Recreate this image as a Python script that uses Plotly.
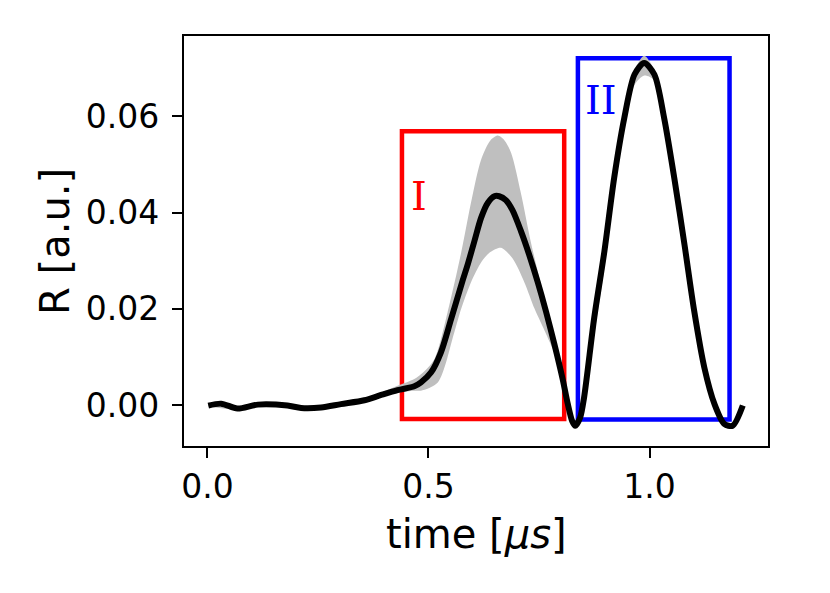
"""
Reflectance trace R(t) with its spread band and the two marked regions I and II.
"""

import plotly.graph_objects as go

# ---- data ----
time_us = [0.002, 0.031, 0.068, 0.114, 0.181, 0.212, 0.257, 0.302, 0.355, 0.393,
           0.430, 0.468, 0.483, 0.506, 0.528, 0.551, 0.577, 0.589, 0.604, 0.619,
           0.634, 0.649, 0.660, 0.675, 0.690, 0.709, 0.728, 0.747, 0.766, 0.785,
           0.804, 0.815, 0.825, 0.832, 0.843, 0.852, 0.875, 0.898, 0.920, 0.943,
           0.966, 0.988, 1.011, 1.033, 1.056, 1.079, 1.101, 1.124, 1.147, 1.169,
           1.188, 1.211]

r_mean = [-0.0001, 0.0003, -0.0007, 0.0001, -0.0001, -0.0006, -0.0005, 0.0002, 0.0010, 0.0021,
          0.0031, 0.0039, 0.0047, 0.0068, 0.0109, 0.0178, 0.0258, 0.0293, 0.0341, 0.0389,
          0.0420, 0.0434, 0.0434, 0.0426, 0.0405, 0.0362, 0.0312, 0.0256, 0.0194, 0.0126,
          0.0052, 0.0003, -0.0033, -0.0043, -0.0026, 0.0016, 0.0182, 0.0320, 0.0472, 0.0597,
          0.0687, 0.0711, 0.0687, 0.0597, 0.0472, 0.0334, 0.0196, 0.0078, 0.0002, -0.0039,
          -0.0043, -0.0001]

# upper edge of the spread band
band_hi_t = [0.002, 0.068, 0.114, 0.181, 0.212, 0.257, 0.302, 0.355, 0.393, 0.430,
             0.468, 0.483, 0.513, 0.543, 0.574, 0.596, 0.619, 0.640, 0.657, 0.672,
             0.687, 0.709, 0.732, 0.755, 0.773, 0.788, 0.804, 0.815, 0.825, 0.832,
             0.843, 0.852, 0.875, 0.898, 0.920, 0.943, 0.966, 0.988, 1.011, 1.033,
             1.056, 1.079, 1.101, 1.124, 1.147, 1.169, 1.188, 1.211]
band_hi_r = [0.0001, -0.0005, 0.0003, 0.0001, -0.0004, -0.0003, 0.0004, 0.0013, 0.0026, 0.0040,
             0.0054, 0.0064, 0.0095, 0.0192, 0.0317, 0.0420, 0.0510, 0.0550, 0.0560, 0.0550,
             0.0524, 0.0441, 0.0337, 0.0248, 0.0172, 0.0116, 0.0055, 0.0005, -0.0031, -0.0041,
             -0.0024, 0.0018, 0.0184, 0.0322, 0.0474, 0.0600, 0.0695, 0.0726, 0.0695, 0.0599,
             0.0474, 0.0336, 0.0198, 0.0080, 0.0004, -0.0037, -0.0041, 0.0001]

# lower edge of the spread band
band_lo_t = [0.002, 0.068, 0.114, 0.181, 0.212, 0.257, 0.302, 0.355, 0.393, 0.430,
             0.468, 0.483, 0.521, 0.558, 0.574, 0.596, 0.620, 0.640, 0.664, 0.690,
             0.717, 0.740, 0.760, 0.777, 0.790, 0.804, 0.815, 0.825, 0.832, 0.843,
             0.852, 0.875, 0.898, 0.920, 0.943, 0.966, 0.988, 1.011, 1.033, 1.056,
             1.079, 1.101, 1.124, 1.147, 1.169, 1.188, 1.211]
band_lo_r = [-0.0003, -0.0009, -0.0001, -0.0003, -0.0008, -0.0007, 0.0000, 0.0008, 0.0018, 0.0026,
             0.0030, 0.0030, 0.0047, 0.0150, 0.0200, 0.0255, 0.0298, 0.0318, 0.0327, 0.0305,
             0.0255, 0.0200, 0.0160, 0.0125, 0.0098, 0.0047, -0.0001, -0.0035, -0.0045, -0.0030,
             -0.0010, 0.0145, 0.0285, 0.0440, 0.0570, 0.0665, 0.0685, 0.0675, 0.0593, 0.0470,
             0.0332, 0.0194, 0.0076, 0.0000, -0.0041, -0.0045, -0.0003]

# regions: [t_start, t_end, R_bottom, R_top]
region_I = [0.440, 0.807, -0.0029, 0.0569]
region_II = [0.838, 1.181, -0.0030, 0.0721]
label_I_pos = [0.479, 0.0434]
label_II_pos = [0.891, 0.0635]

x_ticks = [0.0, 0.5, 1.0]
y_ticks = [0.00, 0.02, 0.04, 0.06]

fig = go.Figure()

# spread band
fig.add_trace(go.Scatter(
    x=band_lo_t, y=band_lo_r, mode="lines",
    line=dict(width=0, color="#bfbfbf", shape="spline", smoothing=0.8),
    hoverinfo="skip",
))
fig.add_trace(go.Scatter(
    x=band_hi_t, y=band_hi_r, mode="lines", fill="tonexty", fillcolor="#bfbfbf",
    line=dict(width=0, color="#bfbfbf", shape="spline", smoothing=0.8),
    hoverinfo="skip",
))

# mean trace
fig.add_trace(go.Scatter(
    x=time_us, y=r_mean, mode="lines",
    line=dict(width=6, color="black", shape="spline", smoothing=0.8),
))

for reg, col in [(region_I, "#ff0000"), (region_II, "#0000ff")]:
    fig.add_shape(
        type="rect", xref="x", yref="y",
        x0=reg[0], x1=reg[1], y0=reg[2], y1=reg[3],
        line=dict(color=col, width=4.5), layer="below",
    )

for txt, pos, col in [("I", label_I_pos, "#ff0000"), ("II", label_II_pos, "#0000ff")]:
    fig.add_annotation(
        x=pos[0], y=pos[1], text=txt, showarrow=False,
        font=dict(family="DejaVu Serif", size=40, color=col),
        xanchor="center", yanchor="middle",
    )

# axis titles as annotations so they sit where the reference has them
fig.add_annotation(
    x=0.5, y=-0.215, xref="paper", yref="paper", text="time [<i>μs</i>]",
    showarrow=False, font=dict(family="DejaVu Sans", size=40, color="black"),
    xanchor="center", yanchor="middle",
)
fig.add_annotation(
    x=-0.221, y=0.5, xref="paper", yref="paper", text="R [a.u.]", textangle=-90,
    showarrow=False, font=dict(family="DejaVu Sans", size=40, color="black"),
    xanchor="center", yanchor="middle",
)

axis_common = dict(
    showline=True, mirror=True, linecolor="black", linewidth=2.2,
    ticks="outside", ticklen=10, tickwidth=2.2, tickcolor="black",
    showgrid=False, zeroline=False,
    tickfont=dict(family="DejaVu Sans", size=33, color="black"),
)

fig.update_xaxes(range=[-0.053, 1.268], tickvals=x_ticks, tickformat=".1f", **axis_common)
fig.update_yaxes(range=[-0.0085, 0.0767], tickvals=y_ticks, tickformat=".2f",
                 ticklabelstandoff=6, **axis_common)

fig.update_layout(
    width=830, height=593,
    margin=dict(l=176, r=70, t=28, b=155),
    plot_bgcolor="white", paper_bgcolor="white",
    showlegend=False,
    font=dict(family="DejaVu Sans", color="black"),
)

fig.write_html("out.html")
